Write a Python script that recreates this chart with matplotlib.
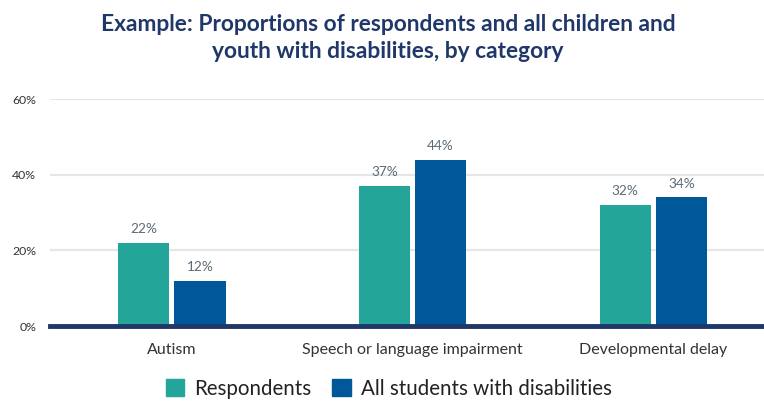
import numpy as np
import matplotlib.pyplot as plt
from matplotlib.patches import Patch

plt.rcParams['font.family'] = ['Lato', 'DejaVu Sans']

categories = ['Autism', 'Speech or language impairment', 'Developmental delay']
respondents = [22, 37, 32]
all_students = [12, 44, 34]
series_names = ['Respondents', 'All students with disabilities']
yticks = [0, 20, 40, 60]

teal = '#23a699'
blue = '#00579a'
navy = '#1f3769'
label_col = '#5d6b76'

fig = plt.figure(figsize=(7.64, 4.01), dpi=100)
ax = fig.add_axes([0.0654, 0.187, 0.9346, 0.566])

x = np.arange(len(categories))
w = 0.212
off = 0.1164
b1 = ax.bar(x - off, respondents, w, color=teal, zorder=3)
b2 = ax.bar(x + off, all_students, w, color=blue, zorder=3)

for bars, vals in [(b1, respondents), (b2, all_students)]:
    for r, v in zip(bars, vals):
        ax.text(r.get_x() + r.get_width() / 2, v + 2, '%d%%' % v,
                ha='center', va='bottom', fontsize=9.8, color=label_col)

ax.set_xlim(-0.507, 2.46)
ax.set_ylim(0, 60)
ax.set_yticks(yticks)
ax.set_yticklabels(['%d%%' % t for t in yticks], fontsize=8.8, color='#333333')
ax.set_xticks(x)
ax.set_xticklabels(categories, fontsize=11.5, color='#333333')
ax.tick_params(axis='both', length=0)
ax.tick_params(axis='y', pad=10)
ax.tick_params(axis='x', pad=12)
for s in ax.spines.values():
    s.set_visible(False)
ax.grid(axis='y', color='#e6e6e6', linewidth=1.6, zorder=0)
ax.axhline(0, color=navy, linewidth=3.5, zorder=4, clip_on=False)

fig.text(0.508, 0.965, 'Example: Proportions of respondents and all children and\nyouth with disabilities, by category',
         ha='center', va='top', fontsize=16.4, fontweight='bold', color=navy, linespacing=1.38)

handles = [Patch(color=teal), Patch(color=blue)]
fig.legend(handles, series_names, loc='lower center', bbox_to_anchor=(0.509, -0.04), ncol=2,
           frameon=False, fontsize=14.8, handlelength=0.9, handleheight=0.9,
           handletextpad=0.5, columnspacing=1.0, labelcolor='#222222')

fig.savefig('out.png', dpi=100)
